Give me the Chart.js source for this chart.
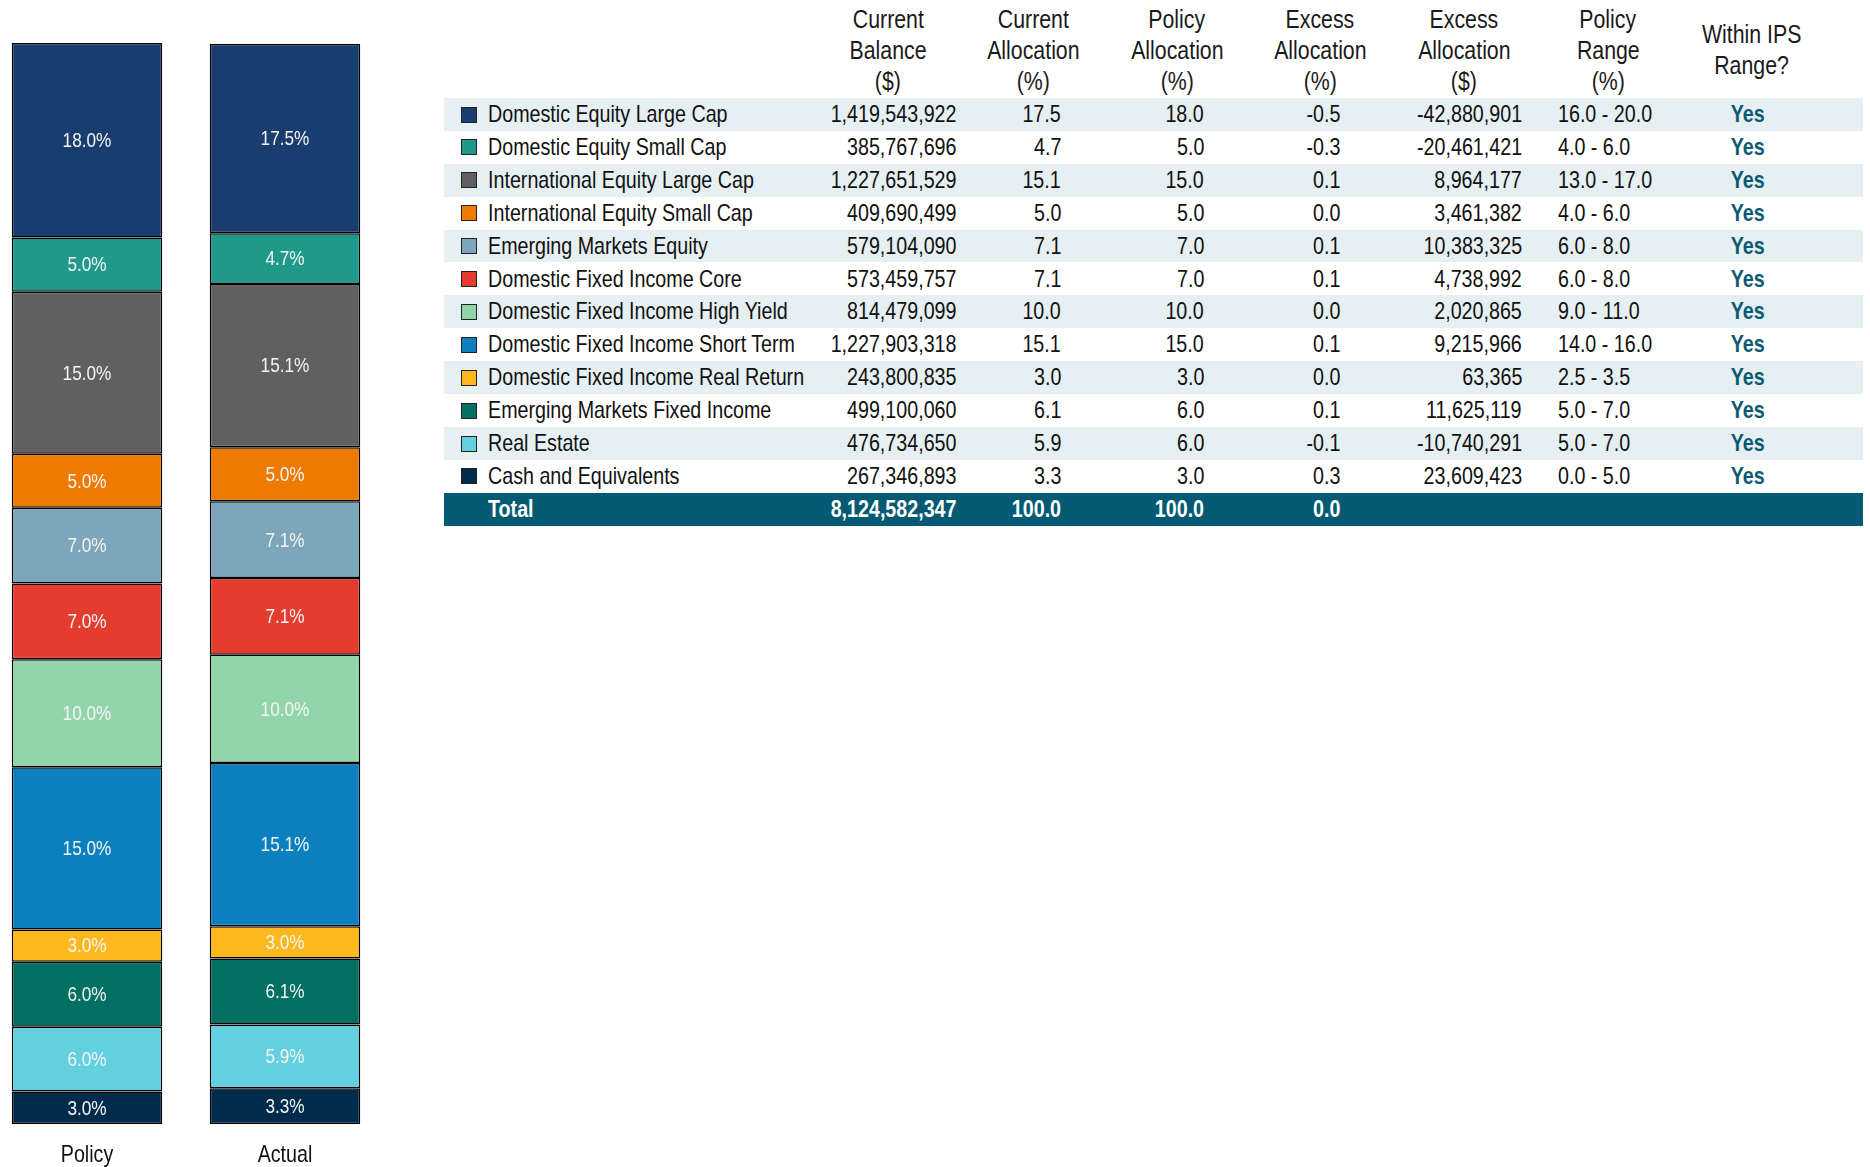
<!DOCTYPE html>
<html>
<head>
<meta charset="utf-8">
<script src="https://cdn.jsdelivr.net/npm/chart.js@4/dist/chart.umd.min.js"></script>
<style>
  html, body { margin: 0; padding: 0; background: #fff; }
  body { width: 1870px; height: 1167px; position: relative; overflow: hidden;
         font-family: "Liberation Sans", Arial, sans-serif; color: #111; }
  #barWrap { position: absolute; left: -12px; top: 0; width: 396px; height: 1167px; }
  .cell { position: absolute; font-size: 24px; white-space: nowrap; }
  .cell span, .hdr span { display: inline-block; transform: scaleX(0.82); }
  .hdr { position: absolute; font-size: 26px; color: #1a1a1a; text-align: center; line-height: 31px; width: 240px; }
  .hdr span { transform-origin: center; }
  .rowbg { position: absolute; left: 444px; width: 1419px; }
  .sw { position: absolute; width: 16px; height: 16px; border: 1px solid #222; box-sizing: border-box; }
  .yes { color: #0b5a73; font-weight: bold; }
  .tot { color: #fff; font-weight: bold; }
</style>
</head>
<body>
<div id="barWrap"><canvas id="allocChart"></canvas></div>
<div id="table"></div>
<script>
// ── Data ──
const assetClasses = [
  "Domestic Equity Large Cap",
  "Domestic Equity Small Cap",
  "International Equity Large Cap",
  "International Equity Small Cap",
  "Emerging Markets Equity",
  "Domestic Fixed Income Core",
  "Domestic Fixed Income High Yield",
  "Domestic Fixed Income Short Term",
  "Domestic Fixed Income Real Return",
  "Emerging Markets Fixed Income",
  "Real Estate",
  "Cash and Equivalents",
];
const colors = [
  "#193D6E", "#1F9A8A", "#606060", "#EE7A00", "#7EA6BA", "#E53C30",
  "#93D5AB", "#0C80BF", "#FDB81E", "#016F61", "#63D0E0", "#002B4A",
];
const barCategories = ["Policy", "Actual"];
const policyPct = [18.0, 5.0, 15.0, 5.0, 7.0, 7.0, 10.0, 15.0, 3.0, 6.0, 6.0, 3.0];
const actualPct = [17.5, 4.7, 15.1, 5.0, 7.1, 7.1, 10.0, 15.1, 3.0, 6.1, 5.9, 3.3];
const balances = [
  "1,419,543,922", "385,767,696", "1,227,651,529", "409,690,499", "579,104,090", "573,459,757",
  "814,479,099", "1,227,903,318", "243,800,835", "499,100,060", "476,734,650", "267,346,893",
];
const excessPct = ["-0.5", "-0.3", "0.1", "0.0", "0.1", "0.1", "0.0", "0.1", "0.0", "0.1", "-0.1", "0.3"];
const excessDollars = [
  "-42,880,901", "-20,461,421", "8,964,177", "3,461,382", "10,383,325", "4,738,992",
  "2,020,865", "9,215,966", "63,365", "11,625,119", "-10,740,291", "23,609,423",
];
const policyRanges = [
  "16.0 - 20.0", "4.0 - 6.0", "13.0 - 17.0", "4.0 - 6.0", "6.0 - 8.0", "6.0 - 8.0",
  "9.0 - 11.0", "14.0 - 16.0", "2.5 - 3.5", "5.0 - 7.0", "5.0 - 7.0", "0.0 - 5.0",
];
const withinRange = ["Yes", "Yes", "Yes", "Yes", "Yes", "Yes", "Yes", "Yes", "Yes", "Yes", "Yes", "Yes"];
const totals = { balance: "8,124,582,347", current: "100.0", policy: "100.0", excess: "0.0" };

const FONT = "'Liberation Sans', Arial, sans-serif";
const NARROW = 0.82; // Arial Narrow look-alike

function narrowText(ctx, text, x, y) {
  ctx.save();
  ctx.translate(x, y);
  ctx.scale(NARROW, 1);
  ctx.fillText(text, 0, 0);
  ctx.restore();
}

// ── Segment labels + category labels ──
const segmentLabels = {
  id: "segmentLabels",
  afterDatasetsDraw(chart) {
    const ctx = chart.ctx;
    ctx.save();
    ctx.textAlign = "center";
    ctx.textBaseline = "middle";
    ctx.font = "21px " + FONT;
    ctx.fillStyle = "#f4f4f4";
    chart.data.datasets.forEach((ds, di) => {
      chart.getDatasetMeta(di).data.forEach((bar, i) => {
        const mid = (bar.y + bar.base) / 2;
        narrowText(ctx, ds.data[i].toFixed(1) + "%", bar.x, mid + 1);
      });
    });
    ctx.font = "24px " + FONT;
    ctx.fillStyle = "#111";
    const xs = chart.scales.x;
    chart.data.labels.forEach((lab, i) => {
      narrowText(ctx, lab, xs.getPixelForValue(i), chart.chartArea.bottom + 31);
    });
    ctx.restore();
  },
};

// stacked bars draw the first dataset at the bottom, so reverse
const datasets = assetClasses.map((name, i) => ({
  label: name,
  data: [policyPct[i], actualPct[i]],
  backgroundColor: colors[i],
  borderColor: "#000",
  borderWidth: 1.5,
  borderSkipped: false,
  barPercentage: 0.76,
  categoryPercentage: 1,
})).reverse();

new Chart(document.getElementById("allocChart"), {
  type: "bar",
  data: { labels: barCategories, datasets },
  options: {
    responsive: true,
    maintainAspectRatio: false,
    animation: false,
    layout: { padding: { top: 43, bottom: 43, left: 0, right: 0 } },
    plugins: { legend: { display: false }, tooltip: { enabled: false } },
    scales: {
      x: { stacked: true, display: false },
      y: { stacked: true, display: false, min: 0, max: 100 },
    },
  },
  plugins: [segmentLabels],
});

// ── Table ──
const table = document.getElementById("table");
const ROW_TOP = 98;
const ROW_H = 32.9;

function addCell(text, x, y, align, cls) {
  const el = document.createElement("div");
  el.className = "cell " + (cls || "");
  const sp = document.createElement("span");
  sp.textContent = text;
  el.appendChild(sp);
  el.style.top = y + "px";
  el.style.lineHeight = ROW_H + "px";
  if (align === "right") {
    el.style.left = (x - 300) + "px";
    el.style.width = "300px";
    el.style.textAlign = "right";
    sp.style.transformOrigin = "right center";
  } else if (align === "center") {
    el.style.left = (x - 100) + "px";
    el.style.width = "200px";
    el.style.textAlign = "center";
    sp.style.transformOrigin = "center";
  } else {
    el.style.left = x + "px";
    sp.style.transformOrigin = "left center";
  }
  table.appendChild(el);
}

function addHeader(lines, cx, top) {
  const el = document.createElement("div");
  el.className = "hdr";
  el.innerHTML = lines.map((l) => "<span>" + l + "</span>").join("<br>");
  el.style.left = (cx - 120) + "px";
  el.style.top = top + "px";
  table.appendChild(el);
}

addHeader(["Current", "Balance", "($)"], 888, 4);
addHeader(["Current", "Allocation", "(%)"], 1033, 4);
addHeader(["Policy", "Allocation", "(%)"], 1177, 4);
addHeader(["Excess", "Allocation", "(%)"], 1320, 4);
addHeader(["Excess", "Allocation", "($)"], 1464, 4);
addHeader(["Policy", "Range", "(%)"], 1608, 4);
addHeader(["Within IPS", "Range?"], 1752, 19);

assetClasses.forEach((name, i) => {
  const y = ROW_TOP + i * ROW_H;
  if (i % 2 === 0) {
    const bg = document.createElement("div");
    bg.className = "rowbg";
    bg.style.top = y + "px";
    bg.style.height = ROW_H + "px";
    bg.style.background = "#E6EFF2";
    table.appendChild(bg);
  }
  const sw = document.createElement("div");
  sw.className = "sw";
  sw.style.left = "461px";
  sw.style.top = (y + 8.5) + "px";
  sw.style.background = colors[i];
  table.appendChild(sw);

  addCell(name, 488, y, "left");
  addCell(balances[i], 956, y, "right");
  addCell(actualPct[i].toFixed(1), 1061, y, "right");
  addCell(policyPct[i].toFixed(1), 1204, y, "right");
  addCell(excessPct[i], 1340, y, "right");
  addCell(excessDollars[i], 1522, y, "right");
  addCell(policyRanges[i], 1558, y, "left");
  addCell(withinRange[i], 1748, y, "center", "yes");
});

const totY = ROW_TOP + assetClasses.length * ROW_H;
const totBg = document.createElement("div");
totBg.className = "rowbg";
totBg.style.top = totY + "px";
totBg.style.height = ROW_H + "px";
totBg.style.background = "#035A72";
table.appendChild(totBg);
addCell("Total", 488, totY, "left", "tot");
addCell(totals.balance, 956, totY, "right", "tot");
addCell(totals.current, 1061, totY, "right", "tot");
addCell(totals.policy, 1204, totY, "right", "tot");
addCell(totals.excess, 1340, totY, "right", "tot");
</script>
</body>
</html>
